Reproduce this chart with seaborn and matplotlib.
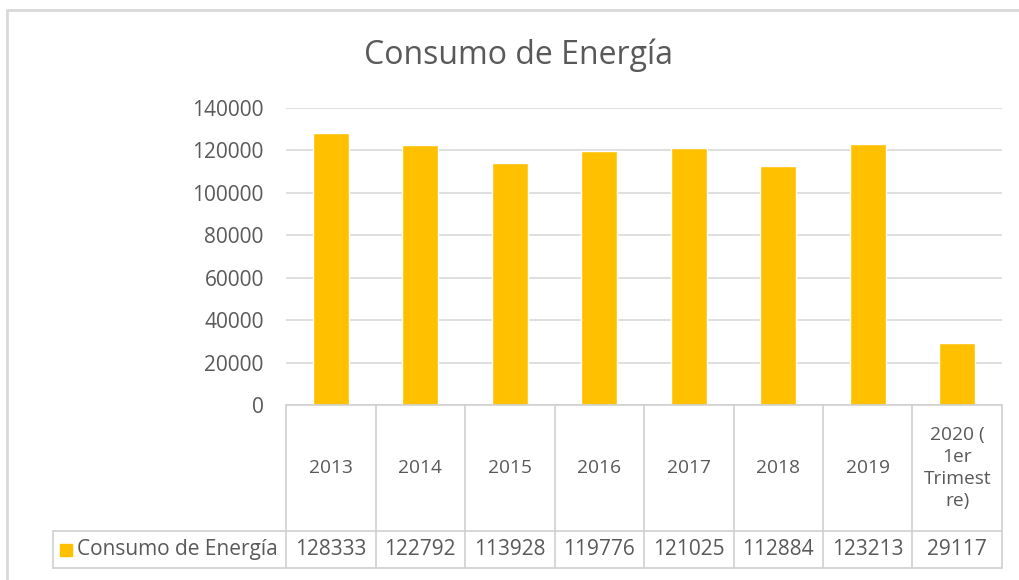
import matplotlib
matplotlib.use("Agg")
import matplotlib.pyplot as plt
from matplotlib.lines import Line2D
import pandas as pd
import seaborn as sns

# Data
categorias = ["2013", "2014", "2015", "2016", "2017", "2018", "2019",
              "2020 (\n1er\nTrimest\nre)"]
consumo = [128333, 122792, 113928, 119776, 121025, 112884, 123213, 29117]
serie = "Consumo de Energía"
yticks = [0, 20000, 40000, 60000, 80000, 100000, 120000, 140000]

df = pd.DataFrame({"Año": categorias, "Consumo": consumo})

sns.set_style("white")
plt.rcParams['font.family'] = ['Open Sans', 'DejaVu Sans']

gold = "#FFC000"
txt = "#595959"
grid = "#D9D9D9"
cell = "#D0D0D0"

fig = plt.figure(figsize=(10.19, 5.8), dpi=100)
W, H = 1019, 580
# plot area in pixels: x 286..1002, y 108..405
ax = fig.add_axes([286 / W, 1 - 405 / H, (1002 - 286) / W, (405 - 108) / H])

sns.barplot(data=df, x="Año", y="Consumo", color=gold, width=0.4,
            saturation=1, ax=ax)

ax.set_ylim(0, 140000)
ax.set_xlim(-0.5, len(categorias) - 0.5)
ax.set_yticks(yticks)
ax.set_yticklabels([str(v) for v in yticks], fontsize=15, color=txt)
ax.tick_params(axis="y", length=0, pad=16)
ax.tick_params(axis="x", length=0, labelbottom=False)
ax.set_xlabel("")
ax.set_ylabel("")
ax.yaxis.grid(True, color=grid, linewidth=1.2)
ax.set_axisbelow(True)
for s in ax.spines.values():
    s.set_visible(False)

# data table under the chart
col_px = (1002 - 286) / len(categorias)
def px2x(px):
    return (px - 286) / col_px - 0.5

plot_h = 405 - 108
y_mid = -(531 - 405) / plot_h
y_bot = -(568 - 405) / plot_h
x_left = px2x(53)
x_right = len(categorias) - 0.5
tr = ax.get_xaxis_transform()
kw = dict(transform=tr, clip_on=False, color=cell, linewidth=1.2)

ax.plot([-0.5, x_right], [0, 0], **kw)
ax.plot([x_left, x_right], [y_mid, y_mid], **kw)
ax.plot([x_left, x_right], [y_bot, y_bot], **kw)
ax.plot([x_left, x_left], [y_mid, y_bot], **kw)
for i in range(len(categorias) + 1):
    ax.plot([i - 0.5, i - 0.5], [0, y_bot], **kw)

for i, (c, v) in enumerate(zip(categorias, consumo)):
    ax.text(i, y_mid / 2, c, transform=tr, ha="center", va="center",
            fontsize=13.8, color=txt, linespacing=1.3)
    ax.text(i, (y_mid + y_bot) / 2, str(v), transform=tr, ha="center",
            va="center", fontsize=15, color=txt)

# legend key inside the table
ax.plot([px2x(66)], [(y_mid + y_bot) / 2], marker="s", markersize=9,
        color=gold, transform=tr, clip_on=False)
ax.text(px2x(77), (y_mid + y_bot) / 2, serie, transform=tr, ha="left",
        va="center", fontsize=15, color=txt)

fig.text(519 / W, 1 - 55 / H, "Consumo de Energía", ha="center",
         va="center", fontsize=23, color=txt)

# chart frame
fig.add_artist(Line2D([7 / W, 1], [1 - 9.5 / H, 1 - 9.5 / H],
                      transform=fig.transFigure, color=grid, linewidth=2))
fig.add_artist(Line2D([7 / W, 7 / W], [0, 1 - 9.5 / H],
                      transform=fig.transFigure, color=grid, linewidth=2))

fig.savefig("out.png", dpi=100)
